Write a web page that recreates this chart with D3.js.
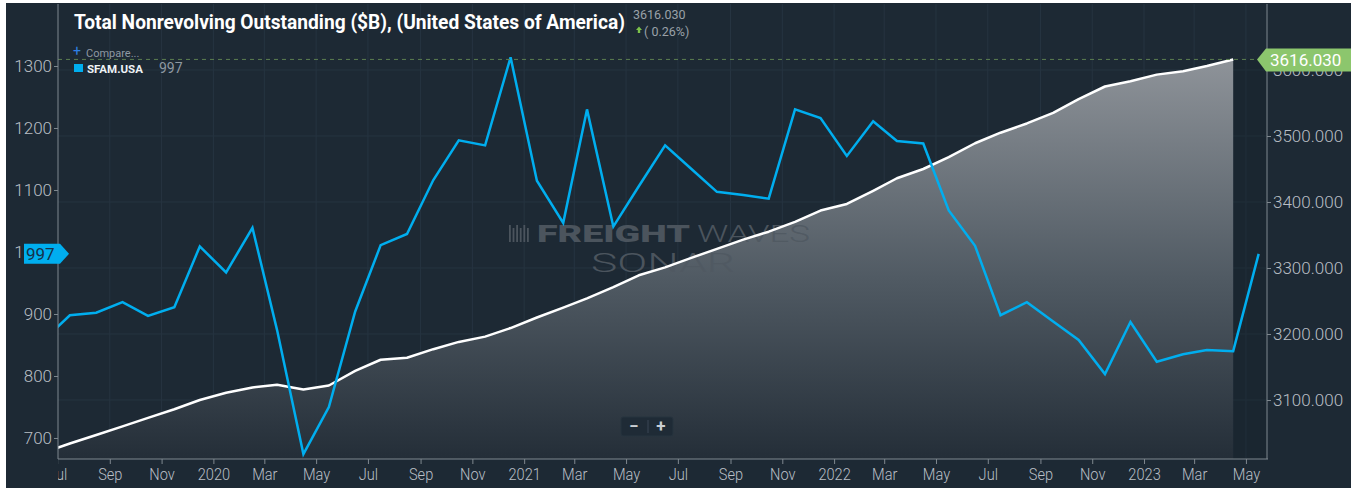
<!DOCTYPE html>
<html>
<head>
<meta charset="utf-8">
<script src="https://cdn.jsdelivr.net/npm/d3@7"></script>
<style>
  body { margin: 0; background: #ffffff; }
  svg text { font-family: Roboto, "Noto Sans", sans-serif; }
</style>
</head>
<body>
<div class="container"></div>
<script>
// monthly observations, Jun 2019 .. May 2023
var months = [
  "2019-06","2019-07","2019-08","2019-09","2019-10","2019-11","2019-12",
  "2020-01","2020-02","2020-03","2020-04","2020-05","2020-06","2020-07","2020-08","2020-09","2020-10","2020-11","2020-12",
  "2021-01","2021-02","2021-03","2021-04","2021-05","2021-06","2021-07","2021-08","2021-09","2021-10","2021-11","2021-12",
  "2022-01","2022-02","2022-03","2022-04","2022-05","2022-06","2022-07","2022-08","2022-09","2022-10","2022-11","2022-12",
  "2023-01","2023-02","2023-03","2023-04","2023-05"
];
// SFAM.USA (left axis)
var sfamValues = [
  859, 898, 902, 919, 897, 911, 1009,
  967, 1039, 874, 674, 750, 904, 1011, 1029, 1116, 1180, 1172, 1314,
  1115, 1047, 1230, 1041, 1106, 1172, 1135, 1097, 1092, 1086, 1230, 1216,
  1155, 1211, 1179, 1175, 1067, 1010, 898, 919, 888, 858, 803, 887,
  823, 835, 842, 840, 997
];
// Total nonrevolving outstanding $B (right axis), ends Apr 2023
var nonrevValues = [
  3021, 3034, 3047, 3060, 3073, 3086, 3100,
  3111, 3119, 3123, 3116, 3122, 3144, 3161, 3164, 3177, 3188, 3196, 3209,
  3225, 3240, 3254, 3271, 3289, 3301, 3315, 3329, 3343, 3355, 3370, 3387,
  3397, 3417, 3436, 3450, 3468, 3489, 3505, 3519, 3535, 3556, 3575, 3583,
  3593, 3598, 3606, 3616.03
];
var leftTicks = [700, 800, 900, 1000, 1100, 1200, 1300];
var rightTicks = [3100, 3200, 3300, 3400, 3500, 3600];

const WIDTH = 1351;
const HEIGHT = 488;
const LEFT = 58, RIGHT = 1267, TOP = 4, BOTTOM = 459;

var parseMonth = function(s) {
  var p = s.split("-");
  return new Date(+p[0], +p[1] - 1, 16);
};

var sfam = months.map(function(m, i) { return {date: parseMonth(m), value: sfamValues[i]}; });
var nonrev = nonrevValues.map(function(v, i) { return {date: parseMonth(months[i]), value: v}; });

var svg = d3.select('.container').append('svg')
  .attr('width', WIDTH)
  .attr('height', HEIGHT)
  .style('display', 'block');

// white frame on left/top, dark panel
svg.append('rect').attr('x', 0).attr('y', 0).attr('width', WIDTH).attr('height', HEIGHT).attr('fill', '#ffffff');
svg.append('rect').attr('x', 6).attr('y', 3).attr('width', WIDTH - 6).attr('height', HEIGHT - 3).attr('fill', '#1d2934');

var xScale = d3.scaleTime()
  .domain([new Date(2019, 6, 2), new Date(2023, 4, 27)])
  .range([LEFT, RIGHT + 1]);

var yLeft = d3.scaleLinear().domain([666.1, 1400]).range([BOTTOM, TOP]);
var yRight = d3.scaleLinear().domain([3010.6, 3700]).range([BOTTOM, TOP]);

// every other month, starting with the (half cut) Jul 2019 label
var xTicks = d3.timeMonth.every(2).range(new Date(2019, 6, 1), new Date(2023, 5, 1));

var defs = svg.append('defs');
defs.append('clipPath').attr('id', 'plotClip')
  .append('rect').attr('x', LEFT).attr('y', TOP).attr('width', RIGHT - LEFT).attr('height', BOTTOM - TOP);
// x axis group is translated to BOTTOM, so this clip is in its local space
defs.append('clipPath').attr('id', 'xClip')
  .append('rect').attr('x', LEFT).attr('y', -2).attr('width', WIDTH - LEFT).attr('height', 40);

var grad = defs.append('linearGradient').attr('id', 'areaGrad')
  .attr('gradientUnits', 'userSpaceOnUse')
  .attr('x1', 0).attr('x2', 0).attr('y1', yRight(3616.03)).attr('y2', BOTTOM);
grad.append('stop').attr('offset', '0%').attr('stop-color', '#8e9399');
grad.append('stop').attr('offset', '55%').attr('stop-color', '#505a63');
grad.append('stop').attr('offset', '100%').attr('stop-color', '#242e38');

// grid
var grid = svg.append('g').attr('clip-path', 'url(#plotClip)');
grid.selectAll('line.v').data(xTicks).enter().append('line')
  .attr('x1', function(d) { return xScale(d); }).attr('x2', function(d) { return xScale(d); })
  .attr('y1', TOP).attr('y2', BOTTOM)
  .attr('stroke', '#263441').attr('stroke-width', 1);
grid.selectAll('line.h').data(rightTicks).enter().append('line')
  .attr('x1', LEFT).attr('x2', RIGHT)
  .attr('y1', function(d) { return yRight(d); }).attr('y2', function(d) { return yRight(d); })
  .attr('stroke', '#263441').attr('stroke-width', 1);

// series
var plot = svg.append('g').attr('clip-path', 'url(#plotClip)');

var last = nonrev[nonrev.length - 1];
plot.append('rect')
  .attr('x', xScale(last.date)).attr('y', yRight(last.value))
  .attr('width', RIGHT - xScale(last.date)).attr('height', BOTTOM - yRight(last.value))
  .attr('fill', '#18222c').attr('opacity', 0.35);

var area = d3.area()
  .x(function(d) { return xScale(d.date); })
  .y0(BOTTOM)
  .y1(function(d) { return yRight(d.value); });
plot.append('path').datum(nonrev).attr('d', area).attr('fill', 'url(#areaGrad)');

// watermark (sits over the area)
var wm = svg.append('g').attr('fill', '#505962').attr('opacity', 0.9);
wm.selectAll('rect').data(d3.range(6)).enter().append('rect')
  .attr('x', function(d) { return 509 + d * 3.6; })
  .attr('y', function(d) { return d % 2 ? 228 : 225; })
  .attr('width', 1.8)
  .attr('height', function(d) { return d % 2 ? 14 : 17; });
wm.append('text').attr('x', 537).attr('y', 242).attr('font-size', 23).attr('font-weight', 900)
  .attr('textLength', 153).attr('lengthAdjust', 'spacingAndGlyphs').text('FREIGHT');
wm.append('text').attr('x', 697).attr('y', 242).attr('font-size', 23).attr('font-weight', 300)
  .attr('textLength', 113).attr('lengthAdjust', 'spacingAndGlyphs').text('WAVES');
wm.append('text').attr('x', 591).attr('y', 272).attr('font-size', 26).attr('font-weight', 300)
  .attr('textLength', 144).attr('lengthAdjust', 'spacingAndGlyphs').text('SONAR');

var whiteLine = d3.line()
  .x(function(d) { return xScale(d.date); })
  .y(function(d) { return yRight(d.value); });
var lines = svg.append('g').attr('clip-path', 'url(#plotClip)');
lines.append('path').datum(nonrev).attr('d', whiteLine)
  .attr('fill', 'none').attr('stroke', '#ffffff').attr('stroke-width', 2.5).attr('stroke-linejoin', 'round');

var blueLine = d3.line()
  .x(function(d) { return xScale(d.date); })
  .y(function(d) { return yLeft(d.value); });
lines.append('path').datum(sfam).attr('d', blueLine)
  .attr('fill', 'none').attr('stroke', '#00aeef').attr('stroke-width', 2.5).attr('stroke-linejoin', 'miter');

// dashed last-value line
svg.append('line')
  .attr('x1', LEFT).attr('x2', RIGHT - 10)
  .attr('y1', yRight(last.value)).attr('y2', yRight(last.value))
  .attr('stroke', '#5d7f51').attr('stroke-width', 1).attr('stroke-dasharray', '4,4');

// axes
var axisColor = '#7f888f';
var labelColor = '#b9bfc5';

var xAxis = d3.axisBottom(xScale)
  .tickValues(xTicks)
  .tickSize(5)
  .tickFormat(function(d) { return d.getMonth() === 0 ? d3.timeFormat('%Y')(d) : d3.timeFormat('%b')(d); });
var gx = svg.append('g')
  .attr('transform', 'translate(0,' + BOTTOM + ')')
  .attr('clip-path', 'url(#xClip)')
  .call(xAxis);
gx.select('.domain').attr('stroke', axisColor).attr('d', 'M' + LEFT + ',0H' + (RIGHT + 1));
gx.selectAll('.tick line').attr('stroke', axisColor);
gx.selectAll('.tick text').attr('fill', labelColor).attr('font-size', 17).attr('font-weight', 300)
  .attr('y', 9).attr('transform', 'scale(0.86,1)');

var yAxisL = d3.axisLeft(yLeft).tickValues(leftTicks).tickSize(4).tickPadding(2).tickFormat(d3.format('d'));
var gl = svg.append('g').attr('transform', 'translate(' + LEFT + ',0)').call(yAxisL);
gl.select('.domain').attr('stroke', axisColor).attr('d', 'M0,' + TOP + 'V' + BOTTOM);
gl.selectAll('.tick line').attr('stroke', axisColor);
gl.selectAll('.tick text').attr('fill', labelColor).attr('font-size', 17).attr('font-weight', 300);

var yAxisR = d3.axisRight(yRight).tickValues(rightTicks).tickSize(4).tickPadding(2).tickFormat(d3.format('.3f'));
var gr = svg.append('g').attr('transform', 'translate(' + RIGHT + ',0)').call(yAxisR);
gr.select('.domain').attr('stroke', axisColor).attr('d', 'M0,' + TOP + 'V' + BOTTOM);
gr.selectAll('.tick line').attr('stroke', axisColor);
gr.selectAll('.tick text').attr('fill', labelColor).attr('font-size', 17).attr('font-weight', 300);

// value tags
var ty = yRight(last.value);
svg.append('path')
  .attr('d', 'M' + (RIGHT - 10) + ',' + ty + 'L' + (RIGHT - 1) + ',' + (ty - 11) + 'H' + WIDTH + 'V' + (ty + 12) + 'H' + (RIGHT - 1) + 'Z')
  .attr('fill', '#8cc66d');
svg.append('text').attr('x', RIGHT + 3).attr('y', ty + 7).attr('font-size', 17)
  .attr('fill', '#ffffff').text(d3.format('.3f')(last.value));

var lastS = sfam[sfam.length - 1];
var ly = yLeft(lastS.value);
svg.append('path')
  .attr('d', 'M24,' + (ly - 10) + 'H60L69,' + ly + 'L60,' + (ly + 10) + 'H24Z')
  .attr('fill', '#00aeef');
svg.append('text').attr('x', 26).attr('y', ly + 6.5).attr('font-size', 17)
  .attr('fill', '#16314a').text(lastS.value);

// title block: condensed to 551px by scaling the group
var titleG = svg.append('g');
var title = titleG.append('text').attr('x', 0).attr('y', 0).attr('font-size', 20).attr('font-weight', 700)
  .attr('fill', '#ffffff')
  .text('Total Nonrevolving Outstanding ($B), (United States of America)');
var tw = title.node().getComputedTextLength();
titleG.attr('transform', 'translate(74,29) scale(' + (551 / tw) + ',1)');

svg.append('text').attr('x', 633).attr('y', 19).attr('font-size', 12.5).attr('fill', '#9aa1a8')
  .text(d3.format('.3f')(last.value));
svg.append('path').attr('d', 'M636,30l3,-3.5l3,3.5h-1.8v3h-2.4v-3z').attr('fill', '#7cc24a');
svg.append('text').attr('x', 644).attr('y', 35.5).attr('font-size', 12.5).attr('fill', '#9aa1a8')
  .text('( 0.26%)');

// legend
svg.append('text').attr('x', 73).attr('y', 56).attr('font-size', 14).attr('fill', '#2f80e6').text('+');
svg.append('text').attr('x', 86).attr('y', 57).attr('font-size', 11).attr('fill', '#8e98a2').text('Compare...');
svg.append('rect').attr('x', 74).attr('y', 64).attr('width', 9).attr('height', 8).attr('fill', '#00aeef');
svg.append('text').attr('x', 87).attr('y', 72.5).attr('font-size', 11.5).attr('font-weight', 700)
  .attr('fill', '#eef2f5').text('SFAM.USA');
svg.append('text').attr('x', 159).attr('y', 73).attr('font-size', 14).attr('fill', '#8e98a2').text(lastS.value);

// zoom buttons
var zb = svg.append('g');
zb.append('rect').attr('x', 621).attr('y', 417).attr('width', 52).attr('height', 19).attr('rx', 2)
  .attr('fill', '#1f2b36').attr('stroke', '#27343f');
zb.append('line').attr('x1', 648).attr('x2', 648).attr('y1', 420).attr('y2', 433).attr('stroke', '#3a4754');
zb.append('text').attr('x', 634).attr('y', 432).attr('text-anchor', 'middle').attr('font-size', 17)
  .attr('font-weight', 700).attr('fill', '#c9ced3').text('\u2212');
zb.append('text').attr('x', 661).attr('y', 432).attr('text-anchor', 'middle').attr('font-size', 17)
  .attr('font-weight', 700).attr('fill', '#c9ced3').text('+');
</script>
</body>
</html>
